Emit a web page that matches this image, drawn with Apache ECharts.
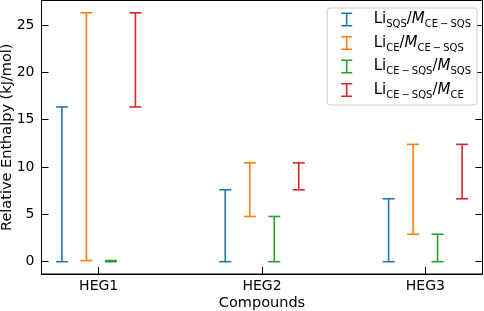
<!DOCTYPE html>
<html>
<head>
<meta charset="utf-8">
<script src="https://cdn.jsdelivr.net/npm/echarts@6/dist/echarts.min.js"></script>
<style>
  html, body { margin: 0; padding: 0; background: #fff; }
  #chart { width: 484px; height: 311px; }
</style>
</head>
<body>
<div id="chart"></div>
<script>
const categories = ['HEG1', 'HEG2', 'HEG3']
const yTicks = [0, 5, 10, 15, 20, 25]

const seriesNames = ['sqs_cesqs', 'ce_cesqs', 'cesqs_sqs', 'cesqs_ce']
const sqsCesqsLow = [0, 0, 0]
const sqsCesqsHigh = [16.35, 7.6, 6.65]
const ceCesqsLow = [0.12, 4.78, 2.9]
const ceCesqsHigh = [26.3, 10.44, 12.4]
const cesqsSqsLow = [0, 0, 0]
const cesqsSqsHigh = [0.12, 4.78, 2.9]
const cesqsCeLow = [16.35, 7.6, 6.65]
const cesqsCeHigh = [26.3, 10.44, 12.4]

const colors = ['#1f77b4', '#ff7f0e', '#2ca02c', '#d62728']
const offsets = [-0.225, -0.075, 0.075, 0.225]

// mathtext-like labels: Li_{a}/M_{b}
const legendLabels = {
  sqs_cesqs: '{f|Li}{s|SQS}{n|/}{i|M}{s|CE\u2009−\u2009SQS}',
  ce_cesqs: '{f|Li}{s|CE}{n|/}{i|M}{s|CE\u2009−\u2009SQS}',
  cesqs_sqs: '{f|Li}{s|CE\u2009−\u2009SQS}{n|/}{i|M}{s|SQS}',
  cesqs_ce: '{f|Li}{s|CE\u2009−\u2009SQS}{n|/}{i|M}{s|CE}'
}

function pairs (low, high) {
  return low.map((v, i) => [i, v, high[i]])
}
const seriesData = [
  pairs(sqsCesqsLow, sqsCesqsHigh),
  pairs(ceCesqsLow, ceCesqsHigh),
  pairs(cesqsSqsLow, cesqsSqsHigh),
  pairs(cesqsCeLow, cesqsCeHigh)
]

function renderItem (params, api) {
  let x = api.value(0) + offsets[params.seriesIndex]
  let lo = api.coord([x, api.value(1)])
  let hi = api.coord([x, api.value(2)])
  let half = 6
  let style = { stroke: api.visual('color'), lineWidth: 1.6 }
  return {
    type: 'group',
    children: [
      { type: 'line', shape: { x1: lo[0], y1: lo[1], x2: hi[0], y2: hi[1] }, style: style },
      { type: 'line', shape: { x1: hi[0] - half, y1: hi[1], x2: hi[0] + half, y2: hi[1] }, style: style },
      { type: 'line', shape: { x1: lo[0] - half, y1: lo[1], x2: lo[0] + half, y2: lo[1] }, style: style }
    ]
  }
}

const font = 'DejaVu Sans'
const errIcon = 'path://M0,0h11v1.6h-11z M4.7,0h1.6v14h-1.6z M0,12.4h11v1.6h-11z'
const axisLineStyle = { color: '#000', width: 1 }

let option = {
  animation: false,
  color: colors,
  grid: {
    left: 41.5,
    right: 1.5,
    top: 0.5,
    bottom: 37,
    outerBoundsMode: 'none',
    show: true,
    borderColor: '#000',
    borderWidth: 1
  },
  legend: {
    orient: 'vertical',
    right: 7,
    top: 8,
    padding: [4, 6, 5, 14],
    itemWidth: 28,
    itemHeight: 14,
    itemGap: 6,
    icon: errIcon,
    borderColor: '#cccccc',
    borderWidth: 1,
    borderRadius: 3,
    backgroundColor: '#fff',
    data: seriesNames,
    formatter: name => legendLabels[name],
    textStyle: {
      fontFamily: font,
      color: '#000',
      rich: {
        f: { fontSize: 15, fontFamily: font, color: '#000', lineHeight: 20, verticalAlign: 'middle', padding: [0, 0, 0, 8] },
        n: { fontSize: 15, fontFamily: font, color: '#000', lineHeight: 20, verticalAlign: 'middle' },
        i: { fontSize: 15, fontFamily: font, fontStyle: 'italic', color: '#000', lineHeight: 20, verticalAlign: 'middle' },
        s: { fontSize: 10, fontFamily: font, color: '#000', lineHeight: 20, verticalAlign: 'bottom' }
      }
    }
  },
  xAxis: {
    type: 'value',
    min: -0.35,
    max: 2.35,
    name: 'Compounds',
    nameLocation: 'middle',
    nameGap: 22,
    nameMoveOverlap: false,
    nameTextStyle: { fontFamily: font, fontSize: 14.5, color: '#000' },
    axisLine: { show: true, onZero: false, lineStyle: axisLineStyle },
    axisTick: { show: true, inside: true, length: 7, customValues: [0, 1, 2], lineStyle: { color: '#000' } },
    axisLabel: {
      customValues: [0, 1, 2],
      formatter: v => categories[Math.round(v)],
      fontFamily: font,
      fontSize: 14,
      color: '#000',
      margin: 5
    },
    splitLine: { show: false }
  },
  yAxis: [
    {
      type: 'value',
      min: -1.3,
      max: 27.6,
      name: 'Relative Enthalpy (kJ/mol)',
      nameLocation: 'middle',
      nameGap: 27,
      nameMoveOverlap: false,
      nameTextStyle: { fontFamily: font, fontSize: 14.5, color: '#000' },
      axisLine: { show: true, onZero: false, lineStyle: axisLineStyle },
      axisTick: { show: true, inside: true, length: 7, customValues: yTicks, lineStyle: { color: '#000' } },
      axisLabel: { customValues: yTicks, fontFamily: font, fontSize: 14, color: '#000', margin: 7 },
      splitLine: { show: false }
    },
    {
      type: 'value',
      position: 'right',
      min: -1.3,
      max: 27.6,
      axisLine: { show: true, onZero: false, lineStyle: axisLineStyle },
      axisTick: { show: true, inside: true, length: 7, customValues: yTicks, lineStyle: { color: '#000' } },
      axisLabel: { show: false },
      splitLine: { show: false }
    }
  ],
  series: seriesNames.map((name, k) => ({
    name: name,
    type: 'custom',
    renderItem: renderItem,
    encode: { x: 0, y: [1, 2] },
    data: seriesData[k],
    z: 3
  }))
}

let chart = echarts.init(document.getElementById('chart'))
chart.setOption(option)
</script>
</body>
</html>
